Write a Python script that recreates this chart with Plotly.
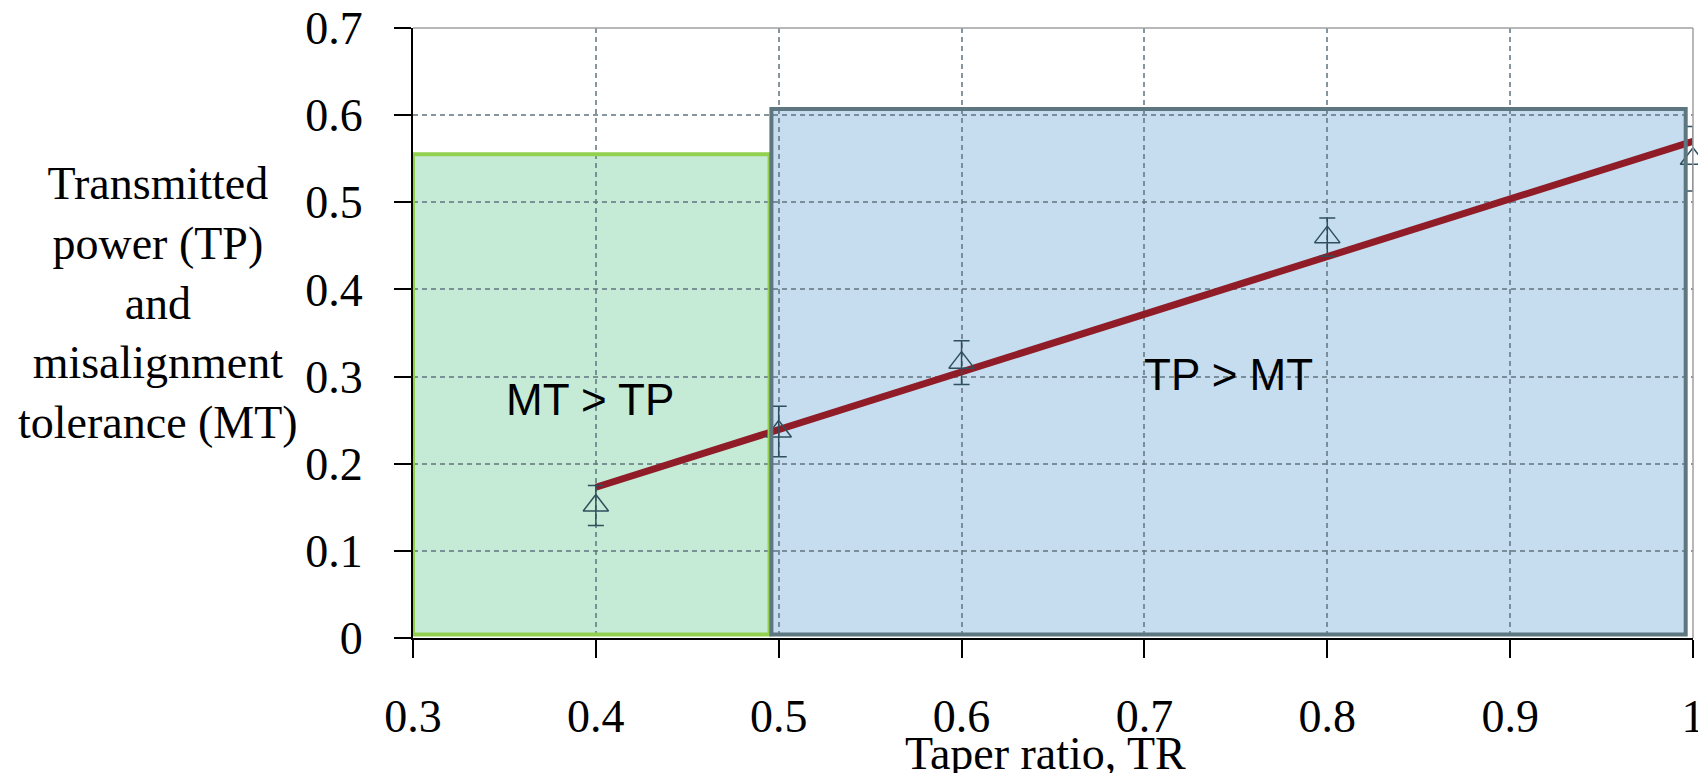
import plotly.graph_objects as go

# ---- data ----
taper_ratio = [0.4, 0.5, 0.6, 0.8, 1.0]
tp_mt = [0.152, 0.237, 0.316, 0.460, 0.550]
tp_err = [0.023, 0.029, 0.025, 0.022, 0.037]

fit_x = [0.4, 1.0]
fit_y = [0.173, 0.570]

# shaded regions: (x0, x1, y_bottom, y_top)
green_region = [0.3, 0.495, 0.004, 0.555]
blue_region = [0.496, 0.996, 0.004, 0.607]

x_ticks = [0.3, 0.4, 0.5, 0.6, 0.7, 0.8, 0.9, 1.0]
x_tick_text = ["0.3", "0.4", "0.5", "0.6", "0.7", "0.8", "0.9", "1"]
y_ticks = [0, 0.1, 0.2, 0.3, 0.4, 0.5, 0.6, 0.7]
y_tick_text = ["0", "0.1", "0.2", "0.3", "0.4", "0.5", "0.6", "0.7"]

SERIF = "Liberation Serif"
SANS = "Liberation Sans"
grid_col = "rgba(95,115,125,0.75)"
mk_col = "#2f4f5c"

fig = go.Figure()

fig.add_trace(go.Scatter(
    x=fit_x, y=fit_y, mode="lines",
    line=dict(color="#901c28", width=7),
    showlegend=False, hoverinfo="skip"))

fig.add_trace(go.Scatter(
    x=taper_ratio, y=tp_mt, mode="markers",
    marker=dict(symbol="triangle-up-open", size=22, color=mk_col,
                line=dict(color=mk_col, width=1.5)),
    error_y=dict(type="data", array=tp_err, visible=True,
                 color=mk_col, thickness=1.5, width=8),
    showlegend=False, cliponaxis=False))

# region fills (under the grid)
for reg, fill in ((green_region, "#c5ebd6"), (blue_region, "#c5ddef")):
    fig.add_shape(type="rect", xref="x", yref="y",
                  x0=reg[0], x1=reg[1], y0=reg[2], y1=reg[3],
                  fillcolor=fill, line=dict(width=0), layer="below")
# region outlines (on top of everything)
for reg, col in ((green_region, "#92d050"), (blue_region, "#5d7680")):
    fig.add_shape(type="rect", xref="x", yref="y",
                  x0=reg[0], x1=reg[1], y0=reg[2], y1=reg[3],
                  fillcolor="rgba(0,0,0,0)", line=dict(color=col, width=4), layer="above")

# frame top / right (light gray)
fig.add_shape(type="line", xref="paper", yref="paper", x0=0, x1=1, y0=1, y1=1,
              line=dict(color="#a0a0a0", width=1.5))
fig.add_shape(type="line", xref="paper", yref="paper", x0=1, x1=1, y0=0, y1=1,
              line=dict(color="#a0a0a0", width=1.5))

# region labels
fig.add_annotation(x=0.397, y=0.274, xref="x", yref="y", text="MT > TP",
                   showarrow=False, font=dict(family=SANS, size=44, color="black"))
fig.add_annotation(x=0.746, y=0.302, xref="x", yref="y", text="TP > MT",
                   showarrow=False, font=dict(family=SANS, size=44, color="black"))

# axis titles
fig.add_annotation(x=-0.199, y=0.549, xref="paper", yref="paper",
                   text="Transmitted<br>power (TP)<br>and<br>misalignment<br>tolerance (MT)",
                   showarrow=False, align="center", xanchor="center", yanchor="middle",
                   font=dict(family=SERIF, size=46, color="black"))
fig.add_annotation(x=0.494, y=-0.19, xref="paper", yref="paper",
                   text="Taper ratio, TR", showarrow=False,
                   xanchor="center", yanchor="middle",
                   font=dict(family=SERIF, size=46, color="black"))

fig.update_xaxes(range=[0.3, 1.0], tickvals=x_ticks, ticktext=x_tick_text,
                 showline=True, linecolor="black", linewidth=2,
                 ticks="outside", ticklen=18, tickwidth=2, tickcolor="black",
                 showgrid=True, gridcolor=grid_col, gridwidth=1.5, griddash="5px,4px",
                 zeroline=False, ticklabelstandoff=19, automargin=False,
                 ticklabeloverflow="allow",
                 tickfont=dict(family=SERIF, size=46, color="black"))
fig.update_yaxes(range=[0, 0.7], tickvals=y_ticks, ticktext=y_tick_text,
                 showline=True, linecolor="black", linewidth=2,
                 ticks="outside", ticklen=17, tickwidth=2, tickcolor="black",
                 showgrid=True, gridcolor=grid_col, gridwidth=1.5, griddash="5px,4px",
                 zeroline=False, ticklabelstandoff=22, automargin=False,
                 ticklabeloverflow="allow",
                 tickfont=dict(family=SERIF, size=46, color="black"))

# the page body adds an 8px offset; size the figure so the plot lands where it should
fig.update_layout(width=1690, height=765,
                  margin=dict(l=405, r=5, t=20, b=135, autoexpand=False),
                  plot_bgcolor="white", paper_bgcolor="white")

fig.write_html("out.html")
